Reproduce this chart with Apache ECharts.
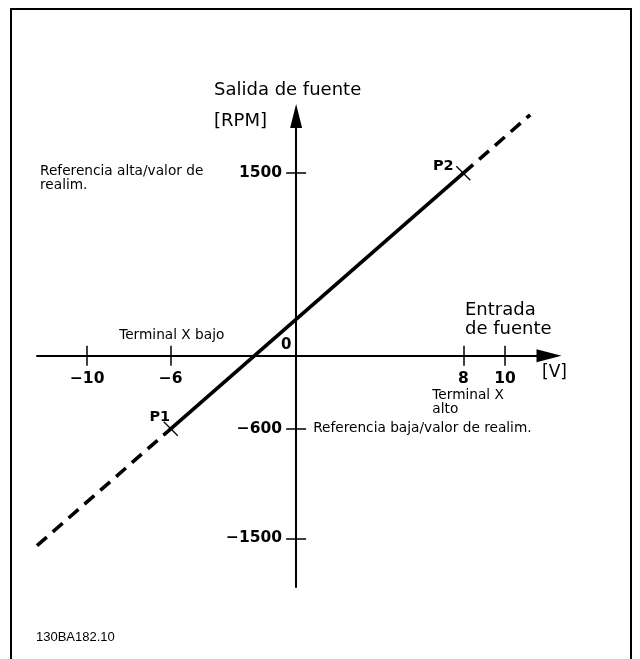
<!DOCTYPE html>
<html><head><meta charset="utf-8">
<script src="https://cdn.jsdelivr.net/npm/echarts@6/dist/echarts.min.js"></script>
<style>html,body{margin:0;padding:0;background:#fff}#c{width:640px;height:659px}</style>
</head><body><div id="c"></div>
<script>
// ---- data ----
const xTickValues = [-10, -6, 8, 10];
const yTickValues = [-1500, -600, 1500];
const pointNames = ['P1', 'P2'];
const pointX = [-6, 8];
const pointY = [-600, 1500];
const lineEndX = [-12.4, 11.2];
const lineEndY = [-1560, 1980];
const xRange = [-12.4, 12.1];
const yRange = [-1900, 1970];
const yAxisTitle = ['Salida de fuente', '[RPM]'];
const xAxisTitle = 'Entrada\nde fuente';
const xUnit = '[V]';
const highRefText = 'Referencia alta/valor de\nrealim.';
const lowRefText = 'Referencia baja/valor de realim.';
const lowTermText = 'Terminal X bajo';
const highTermText = 'Terminal X\nalto';
const zeroText = '0';
const codeText = '130BA182.10';

const FONT = 'DejaVu Sans';
const fmt = v => String(v).replace('-', '\u2212');

const chart = echarts.init(document.getElementById('c'), null, {renderer: 'canvas'});

const tickStyle = {color: '#000', width: 1.5};
const option = {
  animation: false,
  backgroundColor: '#fff',
  grid: {left: 37, right: 91, top: 116, bottom: 72, containLabel: false, outerBoundsMode: 'none'},
  xAxis: [
    {
      type: 'value', min: xRange[0], max: xRange[1], position: 'bottom',
      axisLine: {show: true, onZero: true, onZeroAxisIndex: 0, symbol: ['none', 'triangle'], symbolSize: [13, 25],
        lineStyle: {color: '#000', width: 2}},
      axisTick: {show: true, customValues: xTickValues, length: 10, inside: false, lineStyle: tickStyle},
      axisLabel: {show: false},
      splitLine: {show: false}
    },
    {
      type: 'value', min: xRange[0], max: xRange[1], position: 'top',
      axisLine: {show: false, onZero: true, onZeroAxisIndex: 0},
      axisTick: {show: true, customValues: xTickValues, length: 10, inside: false, lineStyle: tickStyle},
      axisLabel: {show: false},
      splitLine: {show: false}
    }
  ],
  yAxis: [
    {
      type: 'value', min: yRange[0], max: yRange[1], position: 'left',
      axisLine: {show: true, onZero: true, onZeroAxisIndex: 0, symbol: ['none', 'triangle'], symbolSize: [12, 24],
        lineStyle: {color: '#000', width: 2}},
      axisTick: {show: true, customValues: yTickValues, length: 10, inside: false, lineStyle: tickStyle},
      axisLabel: {show: false},
      splitLine: {show: false}
    },
    {
      type: 'value', min: yRange[0], max: yRange[1], position: 'right',
      axisLine: {show: false, onZero: true, onZeroAxisIndex: 0},
      axisTick: {show: true, customValues: yTickValues, length: 10, inside: false, lineStyle: tickStyle},
      axisLabel: {show: false},
      splitLine: {show: false}
    }
  ],
  series: [
    {
      type: 'line', name: 'solid', clip: false, symbol: 'none', silent: true,
      data: [[pointX[0], pointY[0]], [pointX[1], pointY[1]]],
      lineStyle: {color: '#000', width: 3.6}
    },
    {
      type: 'line', name: 'lowExt', clip: false, symbol: 'none', silent: true,
      data: [[lineEndX[0], lineEndY[0]], [pointX[0], pointY[0]]],
      lineStyle: {color: '#000', width: 3.6, type: [13, 8]}
    },
    {
      type: 'line', name: 'highExt', clip: false, symbol: 'none', silent: true,
      data: [[pointX[1], pointY[1]], [lineEndX[1], lineEndY[1]]],
      lineStyle: {color: '#000', width: 3.6, type: [13, 8]}
    },
    {
      type: 'scatter', name: 'points', clip: false, z: 5, silent: true,
      symbol: 'path://M0,0L10,10M10,0L0,10', symbolSize: 14,
      itemStyle: {color: 'none', borderColor: '#000', borderWidth: 1.3, opacity: 1},
      data: pointNames.map((n, i) => ({
        name: n, value: [pointX[i], pointY[i]],
        label: {show: true, formatter: n, position: 'inside',
          offset: i === 0 ? [-11, -12] : [-20, -7],
          color: '#000', opacity: 1, textBorderWidth: 0, fontFamily: FONT, fontWeight: 'bold', fontSize: 14.5}
      }))
    }
  ]
};
chart.setOption(option);

const px = v => chart.convertToPixel({gridIndex: 0}, v);
const o = px([0, 0]);
const pLow = px([xTickValues[1], 0]);
const pHigh = px([xTickValues[2], 0]);
const p600 = px([0, yTickValues[1]]);
const p1500 = px([0, yTickValues[2]]);

const txt = (text, x, y, size, extra) => Object.assign({
  type: 'text', x: x, y: y, silent: true,
  style: Object.assign({text: text, fill: '#000', fontFamily: FONT, fontSize: size,
    align: 'left', verticalAlign: 'middle'}, extra || {})
});

const tickLabels = [];
xTickValues.forEach(v => {
  const p = px([v, 0]);
  tickLabels.push(txt(fmt(v), p[0], o[1] + 23, 15.5, {fontWeight: 'bold', align: 'center'}));
});
yTickValues.forEach(v => {
  const p = px([0, v]);
  tickLabels.push(txt(fmt(v), o[0] - 14, p[1], 15.5, {fontWeight: 'bold', align: 'right'}));
});

chart.setOption({
  graphic: [
    {type: 'polyline', silent: true, shape: {points: [[11, 659], [11, 9], [631, 9], [631, 659]]},
      style: {stroke: '#000', lineWidth: 2, fill: 'none'}},
    txt(yAxisTitle[0], 214, 90, 18),
    txt(yAxisTitle[1], 214, 121, 18),
    txt(xAxisTitle, 465, 320, 18, {lineHeight: 19}),
    txt(xUnit, 542, o[1] + 17, 17),
    txt(highRefText, 40, p1500[1] + 5, 13.7, {lineHeight: 14}),
    txt(lowRefText, o[0] + 17, p600[1], 13.7),
    txt(lowTermText, pLow[0] + 1, o[1] - 20, 13.7, {align: 'center'}),
    txt(highTermText, pHigh[0] - 31, o[1] + 47, 13.7, {lineHeight: 14}),
    txt(zeroText, o[0] - 10, o[1] - 11, 15, {fontWeight: 'bold', align: 'center'}),
    txt(codeText, 36, 637, 13, {fontFamily: 'Liberation Sans'})
  ].concat(tickLabels)
});
</script>
</body></html>
